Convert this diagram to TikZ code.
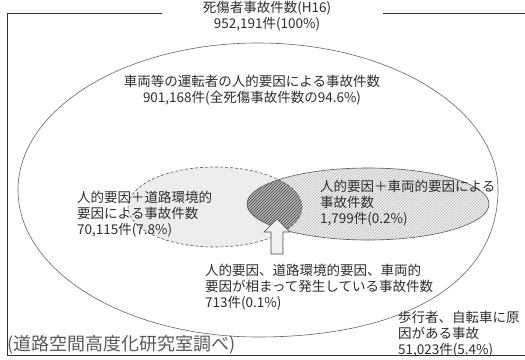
\documentclass[tikz,border=0pt]{standalone}
\usepackage{fontspec}
\setmainfont{Noto Sans CJK JP}
\usetikzlibrary{patterns}
\begin{document}
\begin{tikzpicture}[x=1pt,y=-1pt,
  lbl/.style={font=\fontsize{13.5}{16.3}\selectfont, text=black!82, align=left, inner sep=0pt},
  note/.style={font=\fontsize{18}{20}\selectfont, text=black!65, inner sep=0pt},
  frame/.style={draw=black!80, line width=1pt},
  bigell/.style={draw=black!60, line width=0.6pt},
  leftfill/.style={fill=gray!14},
  rightfill/.style={pattern=north east lines, pattern color=gray!55},
  interfill/.style={fill=gray!60},
  interhatch/.style={pattern=north east lines, pattern color=black!70},
  ellline/.style={draw=black!65, line width=0.6pt},
  arrowbox/.style={fill=gray!12, draw=black!70, line width=0.6pt}]
\useasboundingbox (0,0) rectangle (525,359);
\fill[white] (0,0) rectangle (525,359);

% frame
\coordinate (tl) at (7,13);
\coordinate (tlr) at (162,13);
\coordinate (trl) at (383,13);
\coordinate (tr) at (525,13);
\coordinate (bl) at (7,355);
\coordinate (br) at (525,355);
\draw[frame] (tlr) -- (tl) -- (bl) -- (br);
\draw[frame] (trl) -- (tr);

% big ellipse
\coordinate (bt) at (258,43);
\coordinate (br2) at (498,190);
\coordinate (bb) at (258,337);
\coordinate (bl2) at (18,190);
\draw[bigell] (bt) .. controls (390.5,43) and (498,108.8) .. (br2)
  .. controls (498,281.1) and (406.8,337) .. (bb)
  .. controls (125.5,337) and (18,271.2) .. (bl2)
  .. controls (18,108.8) and (125.5,43) .. (bt);

% small ellipses
\coordinate (L) at (215,207);
\coordinate (R) at (368,204);
\path[leftfill] (L) ellipse [x radius=87pt, y radius=40pt];
\path[fill=gray!12] (R) ellipse [x radius=121pt, y radius=36pt];
\path[rightfill] (R) ellipse [x radius=121pt, y radius=36pt];
\begin{scope}
  \clip (L) ellipse [x radius=87pt, y radius=40pt];
  \path[interfill] (R) ellipse [x radius=121pt, y radius=36pt];
  \path[interhatch] (R) ellipse [x radius=121pt, y radius=36pt];
\end{scope}
\draw[ellline, densely dashed] (L) ellipse [x radius=87pt, y radius=40pt];
\draw[ellline] (R) ellipse [x radius=121pt, y radius=36pt];

% arrow
\draw[arrowbox] (271,254) -- (271,232) -- (264,232) -- (277,219) -- (290,232) -- (283,232) -- (283,254) -- cycle;

% texts
\node[lbl, align=center] (title) at (267,16) {死傷者事故件数(H16)\\952,191件(100\%)};
\node[lbl, align=center] (driver) at (252,90) {車両等の運転者の人的要因による事故件数\\901,168件(全死傷事故件数の94.6\%)};
\node[lbl, anchor=west] (road) at (77,214) {人的要因＋道路環境的\\要因による事故件数\\70,115件(7.8\%)};
\node[lbl, anchor=west] (vehicle) at (320,203) {人的要因＋車両的要因による\\事故件数\\1,799件(0.2\%)};
\node[lbl, anchor=west] (all) at (205,287) {人的要因、道路環境的要因、車両的\\要因が相まって発生している事故件数\\713件(0.1\%)};
\node[lbl, anchor=west] (ped) at (398,334) {歩行者、自転車に原\\因がある事故\\51,023件(5.4\%)};
\node[note, anchor=west] (src) at (7,345) {(道路空間高度化研究室調べ)};
\end{tikzpicture}
\end{document}
